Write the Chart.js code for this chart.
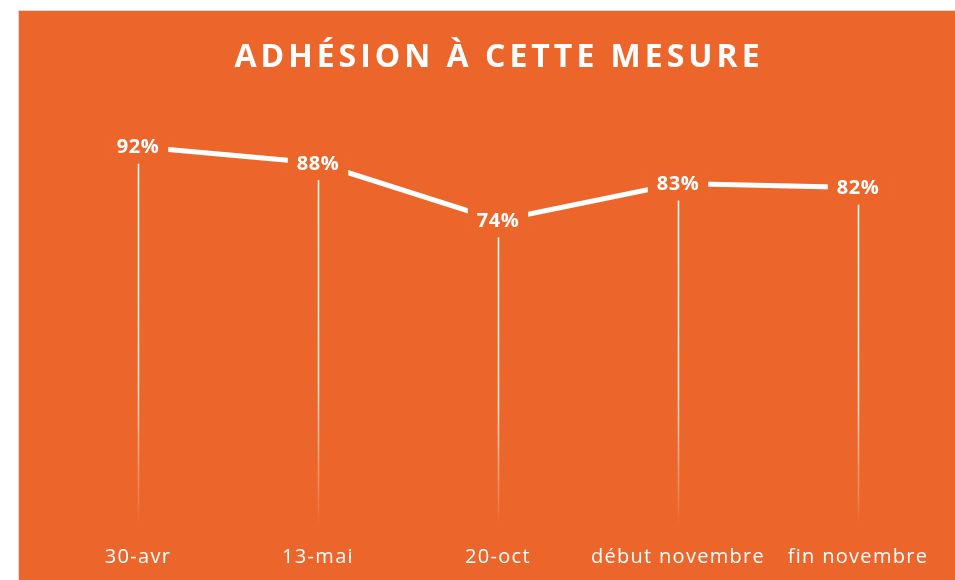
<!DOCTYPE html>
<html>
<head>
<meta charset="utf-8">
<script src="https://cdn.jsdelivr.net/npm/chart.js@4.4.1/dist/chart.umd.min.js"></script>
<style>
  html, body { margin: 0; padding: 0; background: #ffffff; width: 955px; height: 580px; overflow: hidden; }
  #frame { position: absolute; left: 18px; top: 10px; border-top: 1px solid #d9d9d9; border-left: 1px solid #d9d9d9; }
  canvas { display: block; background: #EC662C; }
</style>
</head>
<body>
<div id="frame"><canvas id="c" width="936" height="569"></canvas></div>
<script>
const titleText = "ADHÉSION À CETTE MESURE";
const categories = ["30-avr", "13-mai", "20-oct", "début novembre", "fin novembre"];
const values = [92, 88, 74, 83, 82];
const valueLabels = ["92%", "88%", "74%", "83%", "82%"];

const ORANGE = "#EC662C";

const titlePlugin = {
  id: "spacedTitle",
  afterDraw(chart) {
    const ctx = chart.ctx;
    ctx.save();
    ctx.font = "bold 32px 'Open Sans'";
    ctx.letterSpacing = "4px";
    ctx.fillStyle = "#ffffff";
    ctx.textAlign = "center";
    ctx.textBaseline = "middle";
    ctx.fillText(titleText, 480, 47);
    ctx.restore();
  }
};

const dropLinePlugin = {
  id: "dropLines",
  beforeDatasetsDraw(chart) {
    const ctx = chart.ctx;
    const meta = chart.getDatasetMeta(0);
    const yScale = chart.scales.y;
    const yBottom = yScale.getPixelForValue(0) + 2;
    ctx.save();
    meta.data.forEach((pt) => {
      const g = ctx.createLinearGradient(0, pt.y, 0, yBottom);
      g.addColorStop(0, "rgba(255,255,255,1)");
      g.addColorStop(0.6, "rgba(255,255,255,0.85)");
      g.addColorStop(1, "rgba(255,255,255,0)");
      ctx.strokeStyle = g;
      ctx.lineWidth = 1.5;
      ctx.beginPath();
      ctx.moveTo(Math.round(pt.x) + 0.5, pt.y);
      ctx.lineTo(Math.round(pt.x) + 0.5, yBottom);
      ctx.stroke();
    });
    ctx.restore();
  }
};

const labelPlugin = {
  id: "valueLabels",
  afterDatasetsDraw(chart) {
    const ctx = chart.ctx;
    const meta = chart.getDatasetMeta(0);
    ctx.save();
    ctx.letterSpacing = "0.5px";
    ctx.font = "bold 20px 'Open Sans'";
    ctx.textAlign = "center";
    ctx.textBaseline = "middle";
    meta.data.forEach((pt, i) => {
      const txt = valueLabels[i];
      const w = ctx.measureText(txt).width + 18;
      const h = 34;
      ctx.fillStyle = ORANGE;
      ctx.fillRect(pt.x - w / 2, pt.y - h / 2, w, h);
      ctx.fillStyle = "#ffffff";
      ctx.fillText(txt, pt.x, pt.y + 1);
    });
    ctx.restore();
  }
};

const tickSpacingPlugin = {
  id: "tickSpacing",
  beforeDraw(chart) { chart.ctx.letterSpacing = "1.3px"; },
  afterDraw(chart) { chart.ctx.letterSpacing = "0px"; }
};

new Chart(document.getElementById("c"), {
  type: "line",
  data: {
    labels: categories,
    datasets: [{
      data: values,
      borderColor: "#ffffff",
      borderWidth: 5,
      pointRadius: 0,
      pointHoverRadius: 0,
      tension: 0,
      fill: false
    }]
  },
  options: {
    responsive: false,
    devicePixelRatio: 1,
    animation: false,
    events: [],
    layout: { padding: { left: 29, right: 7, top: 103, bottom: -11 } },
    plugins: {
      legend: { display: false },
      title: { display: false },
      tooltip: { enabled: false }
    },
    scales: {
      x: {
        offset: true,
        grid: { display: false, drawTicks: false },
        border: { display: false },
        ticks: {
          color: "#ffffff",
          font: { family: "'Open Sans'", size: 20 },
          padding: 22,
          maxRotation: 0,
          autoSkip: false
        }
      },
      y: {
        display: false,
        min: 0,
        max: 100
      }
    }
  },
  plugins: [tickSpacingPlugin, dropLinePlugin, labelPlugin, titlePlugin]
});
</script>
</body>
</html>
